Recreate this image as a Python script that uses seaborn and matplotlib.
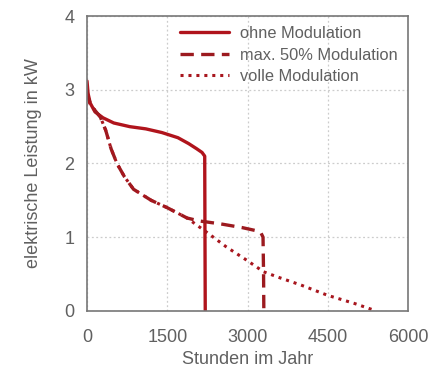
import numpy as np
import pandas as pd
import matplotlib
matplotlib.use('Agg')
import matplotlib.pyplot as plt
import seaborn as sns

# Jahresdauerlinien
ohne_h = [0, 20, 60, 150, 300, 500, 800, 1100, 1400, 1700, 1900, 2050, 2150, 2200, 2205, 2210]
ohne_kw = [3.12, 2.95, 2.82, 2.70, 2.62, 2.55, 2.50, 2.47, 2.42, 2.35, 2.27, 2.20, 2.15, 2.10, 1.0, 0.0]

max50_h = [0, 20, 60, 150, 250, 350, 450, 560, 700, 870, 1200, 1500, 1870, 2100, 2500, 2900, 3150, 3250, 3290, 3300, 3305]
max50_kw = [3.0, 2.9, 2.82, 2.72, 2.63, 2.45, 2.20, 2.00, 1.82, 1.65, 1.50, 1.40, 1.26, 1.22, 1.18, 1.13, 1.09, 1.06, 1.0, 0.5, 0.0]

voll_h = [0, 20, 60, 150, 250, 350, 450, 560, 700, 870, 1200, 1500, 1870, 2250, 2600, 3000, 3300, 3600, 4000, 4500, 5000, 5400]
voll_kw = [2.95, 2.88, 2.80, 2.72, 2.63, 2.45, 2.20, 2.00, 1.82, 1.65, 1.50, 1.40, 1.26, 1.06, 0.87, 0.68, 0.53, 0.45, 0.35, 0.21, 0.10, 0.0]

x_ticks = [0, 1500, 3000, 4500, 6000]
y_ticks = [0, 1, 2, 3, 4]

sns.set_style('white')
plt.rcParams['font.family'] = ['Liberation Sans', 'DejaVu Sans']

fig, ax = plt.subplots(figsize=(4.35, 3.67), dpi=100)
fig.subplots_adjust(left=0.2, right=0.938, top=0.956, bottom=0.153)

sns.lineplot(x=ohne_h, y=ohne_kw, ax=ax, color='#b0141c', lw=2.4,
             label='ohne Modulation', sort=False)
sns.lineplot(x=max50_h, y=max50_kw, ax=ax, color='#9c1a1f', lw=2.4,
             label='max. 50% Modulation', sort=False)
ax.lines[-1].set_dashes([4, 2.2])
sns.lineplot(x=voll_h, y=voll_kw, ax=ax, color='#a8161e', lw=2.2,
             label='volle Modulation', sort=False)
ax.lines[-1].set_dashes([1, 1.6])

ax.set_xlim(0, 6000)
ax.set_ylim(0, 4)
ax.set_xticks(x_ticks)
ax.set_yticks(y_ticks)

grey = '#606060'
ax.grid(True, color='#cccccc', linestyle=(0, (1.5, 2)), lw=0.9)
for s in ax.spines.values():
    s.set_color('#777777')
    s.set_linewidth(1.2)
ax.tick_params(direction='out', length=4, width=1, color='#777777',
               labelcolor=grey, labelsize=13, pad=5)
ax.tick_params(axis='x', pad=9)
ax.set_xlabel('Stunden im Jahr', color=grey, fontsize=13, labelpad=4)
ax.set_ylabel('elektrische Leistung in kW', color=grey, fontsize=13, labelpad=16)

leg = ax.legend(loc='upper right', frameon=False, fontsize=11.8,
                handlelength=3.0, labelspacing=0.4, borderaxespad=0.2,
                handletextpad=0.7, bbox_to_anchor=(1.0, 1.0))
for t in leg.get_texts():
    t.set_color(grey)

fig.savefig('out.png', dpi=100)
